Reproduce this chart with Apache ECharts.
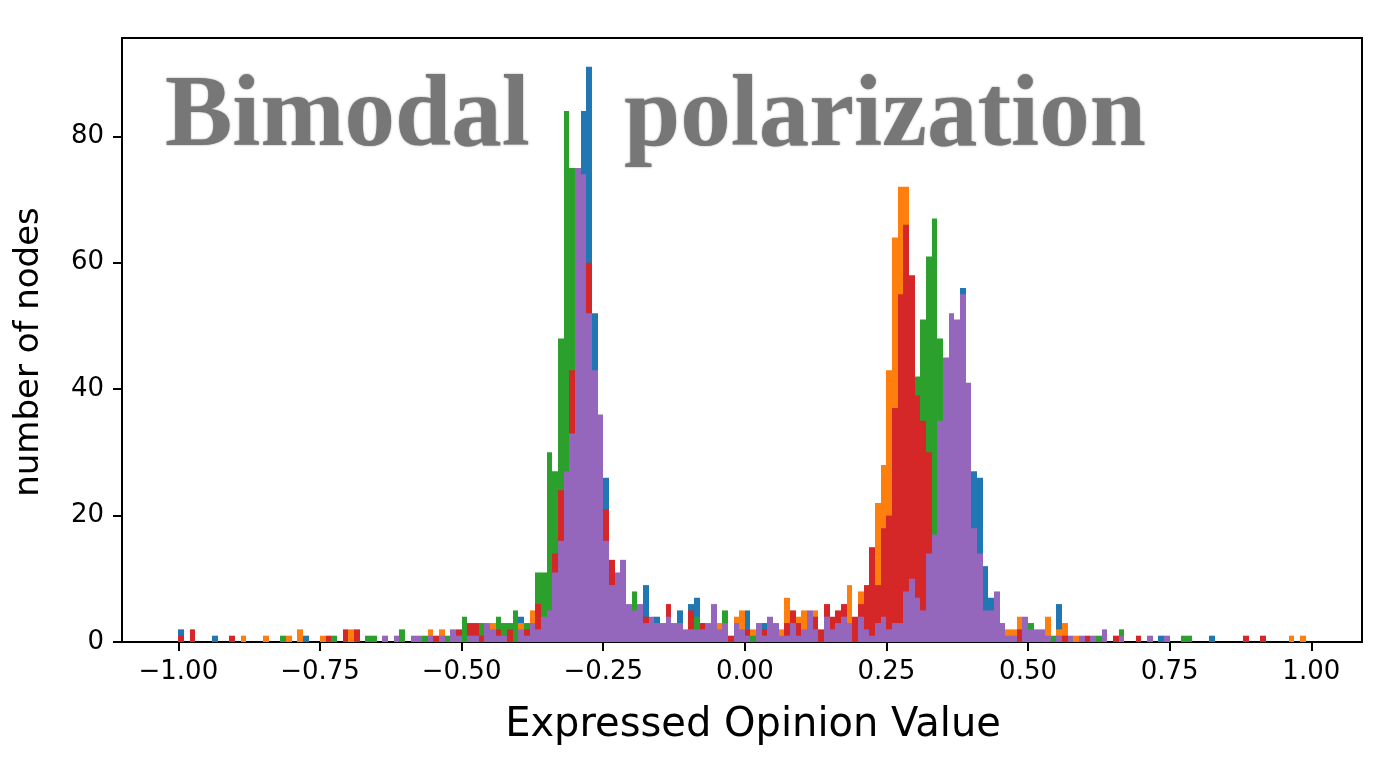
<!DOCTYPE html>
<html>
<head>
<meta charset="utf-8">
<script src="https://cdn.jsdelivr.net/npm/echarts@6/dist/echarts.min.js"></script>
<style>
  html, body { margin: 0; padding: 0; background: #fff; }
  #main { width: 1390px; height: 770px; }
</style>
</head>
<body>
<div id="main"></div>
<script>
// histogram bins: 200 bins of width 0.01 starting at -1.00
const binStart = -1.0;
const binWidth = 0.01;

const xTicks = [-1, -0.75, -0.5, -0.25, 0, 0.25, 0.5, 0.75, 1];
const yTicks = [0, 20, 40, 60, 80];

// counts per bin, one array per run (drawn in this order, later ones on top)
const run1 = [
  2,0,0,0,0,0,1,0,0,0, 0,0,0,0,0,0,0,0,0,0,
  0,0,1,0,0,0,0,0,0,0, 0,0,0,0,0,0,0,0,0,0,
  0,0,0,0,0,0,0,0,0,0, 0,0,0,0,0,0,0,0,0,0,
  4,0,0,0,3,5,6,10,20,30, 70,84,91,52,35,26,8,8,10,0,
  0,0,9,0,4,0,0,0,5,0, 6,7,0,0,0,0,0,0,0,0,
  5,0,0,3,0,0,0,0,0,0, 0,0,0,0,0,0,0,0,0,0,
  0,0,0,0,0,0,0,0,0,0, 0,5,10,15,30,40,50,48,56,40,
  27,26,12,7,0,0,0,0,0,0, 0,0,0,0,0,6,0,0,0,0,
  0,0,0,0,0,0,0,0,0,0, 0,0,0,1,0,0,0,0,0,0,
  0,0,1,0,0,0,0,0,0,0, 0,0,0,0,0,0,0,0,0,0
];
const run2 = [
  0,0,0,0,0,0,0,0,0,0, 0,1,0,0,0,1,0,0,0,1,
  0,2,0,0,0,1,0,0,0,0, 2,0,0,0,0,0,0,0,0,0,
  0,0,0,0,2,0,2,0,0,0, 0,0,0,0,0,3,0,0,0,0,
  3,0,5,0,0,0,8,15,40,60, 70,60,45,30,20,10,5,0,4,0,
  0,0,0,0,0,0,0,0,0,0, 0,0,0,0,0,3,0,0,4,5,
  0,2,0,0,0,0,2,7,0,4, 5,0,5,0,0,0,0,0,9,3,
  8,6,12,22,28,43,64,72,72,50, 35,20,10,5,0,0,0,0,0,0,
  0,0,0,0,0,0,2,2,4,0, 0,0,0,4,0,2,3,0,1,0,
  0,0,0,0,0,0,0,0,0,0, 0,0,0,0,0,0,0,0,0,0,
  0,0,0,0,0,0,0,0,0,0, 0,0,0,0,0,0,1,0,1,0
];
const run3 = [
  0,0,0,0,0,0,0,0,0,0, 0,0,0,0,0,0,0,0,1,0,
  0,0,0,0,0,0,0,1,0,0, 0,0,0,1,1,0,0,0,0,2,
  0,0,0,1,0,0,0,1,0,0, 4,0,0,3,0,0,4,3,3,5,
  0,3,0,11,11,30,27,48,84,75, 70,55,40,25,15,8,0,0,0,0,
  8,0,0,0,0,0,0,0,0,0, 0,4,0,0,0,0,5,0,0,0,
  0,1,0,0,0,0,0,0,0,0, 0,0,0,0,0,0,0,0,0,0,
  0,0,0,0,0,0,3,5,15,30, 42,51,61,67,48,30,25,15,10,5,
  0,0,0,0,0,0,0,0,0,0, 3,0,0,0,1,0,0,0,0,0,
  0,0,1,0,0,0,2,0,0,0, 0,0,0,0,0,0,0,1,1,0,
  0,0,0,0,0,0,0,0,0,0, 0,0,0,0,0,0,0,0,0,0
];
const run4 = [
  1,0,2,0,0,0,0,0,0,1, 0,0,0,0,0,0,0,0,0,0,
  0,0,0,0,0,0,1,0,0,2, 0,2,0,0,0,0,0,0,0,0,
  0,0,0,0,0,1,0,0,0,2, 0,3,3,1,0,0,2,0,2,0,
  0,2,0,6,0,0,14,24,26,43, 65,70,60,40,30,21,13,8,6,0,
  0,0,4,0,0,0,6,0,0,0, 5,0,3,0,0,0,0,1,0,0,
  2,0,0,2,0,0,0,3,5,3, 0,0,4,2,6,4,5,6,0,4,
  6,9,15,9,18,20,37,55,66,58, 39,35,30,15,12,8,5,0,0,0,
  0,0,0,0,0,0,0,0,2,0, 0,0,0,0,0,0,1,0,0,0,
  1,0,0,0,0,1,0,0,0,1, 0,0,0,0,0,0,0,0,0,0,
  0,0,0,0,0,0,0,0,1,0, 0,1,0,0,0,0,0,0,0,0
];
const run5 = [
  0,0,0,0,0,0,0,0,0,0, 0,0,0,0,0,0,0,0,0,0,
  0,0,0,0,0,0,0,0,0,0, 0,0,0,0,0,0,1,0,1,0,
  0,1,1,0,1,0,1,0,2,1, 0,1,1,0,3,2,1,1,0,0,
  2,1,3,2,4,5,11,16,27,33, 75,74,52,43,36,16,9,11,13,6,
  5,6,3,4,3,3,4,3,3,2, 2,2,2,3,6,2,3,0,3,2,
  1,0,3,1,4,3,1,1,3,1, 2,5,2,0,4,2,3,4,3,0,
  4,2,1,3,4,2,3,3,8,10, 7,5,14,17,35,45,52,51,55,41,
  18,14,5,5,8,3,1,1,0,4, 2,2,2,1,0,1,0,1,0,1,
  0,1,0,2,0,0,1,0,0,0, 0,1,0,0,1,0,0,0,0,0,
  0,0,0,0,0,0,0,0,0,0, 0,0,0,0,0,0,0,0,0,0
];

const runs = [run1, run2, run3, run4, run5];
const colors = ['#1f77b4', '#ff7f0e', '#2ca02c', '#d62728', '#9467bd'];

const fmtX = (v) => (v < 0 ? '\u2212' : '') + Math.abs(v).toFixed(2);

function histSeries(counts, color, idx) {
  const data = [];
  counts.forEach((c, i) => {
    if (c > 0) data.push([binStart + i * binWidth, c]);
  });
  return {
    type: 'custom',
    name: 'run ' + (idx + 1),
    data: data,
    encode: { x: 0, y: 1 },
    silent: true,
    renderItem: (params, api) => {
      const x0 = api.value(0);
      const top = api.coord([x0, api.value(1)]);
      const bottom = api.coord([x0 + binWidth, 0]);
      const left = Math.round(top[0]);
      const right = Math.round(bottom[0]);
      return {
        type: 'rect',
        shape: { x: left, y: top[1], width: right - left, height: bottom[1] - top[1] },
        style: { fill: color }
      };
    }
  };
}

const chart = echarts.init(document.getElementById('main'));

chart.setOption({
  animation: false,
  backgroundColor: '#fff',
  grid: {
    left: 122, top: 38, width: 1240, height: 604,
    show: true, borderColor: '#000', borderWidth: 2,
    containLabel: false, outerBoundsMode: 'none'
  },
  xAxis: {
    type: 'value',
    min: -1.0995, max: 1.0895,
    axisLine: { show: true, onZero: false, lineStyle: { color: '#000', width: 2 } },
    axisTick: { show: true, customValues: xTicks, length: 9, lineStyle: { color: '#000', width: 2 } },
    axisLabel: {
      customValues: xTicks, formatter: fmtX,
      fontSize: 26, fontFamily: 'DejaVu Sans', color: '#000', margin: 17
    },
    splitLine: { show: false },
    name: 'Expressed Opinion Value',
    nameLocation: 'middle', nameGap: 64,
    nameTextStyle: { fontSize: 40, fontFamily: 'DejaVu Sans', color: '#000', padding: [0, 0, 0, 22] }
  },
  yAxis: {
    type: 'value',
    min: 0, max: 95.55,
    axisLine: { show: true, onZero: false, lineStyle: { color: '#000', width: 2 } },
    axisTick: { show: true, customValues: yTicks, length: 9, lineStyle: { color: '#000', width: 2 } },
    axisLabel: {
      customValues: yTicks,
      fontSize: 26, fontFamily: 'DejaVu Sans', color: '#000', margin: 18
    },
    splitLine: { show: false },
    name: 'number of nodes',
    nameLocation: 'middle', nameGap: 76,
    nameTextStyle: { fontSize: 34, fontFamily: 'DejaVu Sans', color: '#000', padding: [0, 24, 0, 0] }
  },
  graphic: [
    {
      type: 'text', z: 100,
      style: {
        x: 165, y: 119, text: 'Bimodal',
        font: 'bold 101px "Liberation Serif"', fill: '#777777',
        verticalAlign: 'middle', align: 'left',
        textShadowColor: 'rgba(60,60,60,0.5)', textShadowBlur: 2
      }
    },
    {
      type: 'text', z: 100,
      style: {
        x: 624, y: 119, text: 'polarization',
        font: 'bold 101px "Liberation Serif"', fill: '#777777',
        verticalAlign: 'middle', align: 'left',
        textShadowColor: 'rgba(60,60,60,0.5)', textShadowBlur: 2
      }
    }
  ],
  series: runs.map((r, i) => histSeries(r, colors[i], i))
});
</script>
</body>
</html>
